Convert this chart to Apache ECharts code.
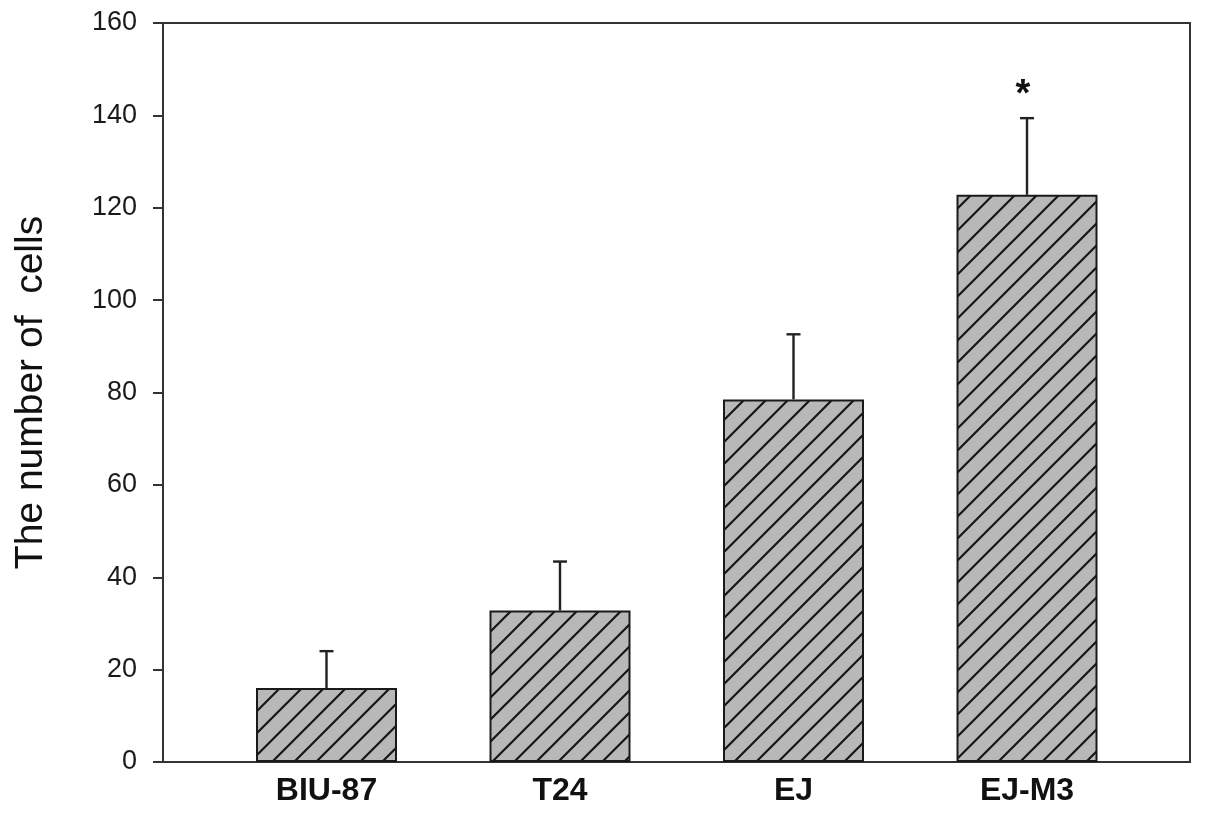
<!DOCTYPE html>
<html>
<head>
<meta charset="utf-8">
<script src="https://cdn.jsdelivr.net/npm/echarts@6/dist/echarts.min.js"></script>
<style>
  html, body { margin: 0; padding: 0; background: #fff; }
  #chart { width: 1205px; height: 817px; }
</style>
</head>
<body>
<div id="chart"></div>
<script>
// data
const cellLines = ['BIU-87', 'T24', 'EJ', 'EJ-M3']
const meanCells = [16.0, 32.8, 78.5, 122.8]
const upperErr = [24.0, 43.4, 92.6, 139.4]
const sigMarks = ['', '', '', '*']
const yTicks = [0, 20, 40, 60, 80, 100, 120, 140, 160]

// hatch pattern: gray fill with dark diagonal lines
function makeHatch() {
  const s = 22
  const c = document.createElement('canvas')
  c.width = s
  c.height = s
  const ctx = c.getContext('2d')
  ctx.fillStyle = '#b8b8b8'
  ctx.fillRect(0, 0, s, s)
  ctx.strokeStyle = '#151515'
  ctx.lineWidth = 2.2
  ctx.beginPath()
  ctx.moveTo(0, s); ctx.lineTo(s, 0)
  ctx.moveTo(-2, 2); ctx.lineTo(2, -2)
  ctx.moveTo(s - 2, s + 2); ctx.lineTo(s + 2, s - 2)
  ctx.stroke()
  return c
}

const chart = echarts.init(document.getElementById('chart'))
const font = 'Liberation Sans, Arial, sans-serif'

chart.setOption({
  backgroundColor: '#fff',
  animation: false,
  grid: [
    { left: 163, right: 15, top: 23, bottom: 55, show: true, borderColor: '#333', borderWidth: 2, backgroundColor: 'transparent' },
    { left: 209.75, right: 61.25, top: 23, bottom: 55 }
  ],
  xAxis: [
    {
      gridIndex: 0, type: 'category', data: [],
      axisLine: { show: true, lineStyle: { color: '#333', width: 2 } },
      axisTick: { show: false }, axisLabel: { show: false }, splitLine: { show: false }
    },
    {
      gridIndex: 1, type: 'category', data: cellLines,
      axisLine: { show: false }, axisTick: { show: false },
      axisLabel: { color: '#111', fontFamily: font, fontSize: 32, fontWeight: 'bold', margin: 13 }
    }
  ],
  yAxis: [
    {
      gridIndex: 0, type: 'value', min: yTicks[0], max: yTicks[yTicks.length - 1], interval: 20,
      name: 'The number of  cells', nameLocation: 'middle', nameGap: 112,
      nameTextStyle: { color: '#111', fontFamily: font, fontSize: 39 },
      axisLine: { show: true, lineStyle: { color: '#333', width: 2 } },
      axisTick: { show: true, inside: false, length: 10, lineStyle: { color: '#333', width: 2 } },
      axisLabel: { color: '#1a1a1a', fontFamily: font, fontSize: 27, margin: 26 },
      splitLine: { show: false }
    },
    {
      gridIndex: 1, type: 'value', min: yTicks[0], max: yTicks[yTicks.length - 1], interval: 20,
      show: false
    }
  ],
  series: [
    {
      type: 'bar', xAxisIndex: 1, yAxisIndex: 1,
      data: meanCells, barWidth: 141,
      itemStyle: {
        color: { image: makeHatch(), repeat: 'repeat' },
        borderColor: '#1a1a1a', borderWidth: 2
      }
    },
    {
      type: 'custom', xAxisIndex: 1, yAxisIndex: 1,
      data: cellLines.map((c, i) => [i, meanCells[i], upperErr[i], sigMarks[i]]),
      renderItem: function (params, api) {
        const lo = api.coord([api.value(0), api.value(1)])
        const hi = api.coord([api.value(0), api.value(2)])
        const cap = 7
        const style = { stroke: '#222', lineWidth: 2.4 }
        const children = [
          { type: 'line', shape: { x1: lo[0], y1: lo[1], x2: hi[0], y2: hi[1] }, style: style },
          { type: 'line', shape: { x1: hi[0] - cap, y1: hi[1], x2: hi[0] + cap, y2: hi[1] }, style: style }
        ]
        const mark = sigMarks[params.dataIndex]
        if (mark) {
          children.push({
            type: 'text',
            style: {
              text: mark, x: hi[0] - 4, y: hi[1] - 4,
              fill: '#111', font: 'bold 38px ' + font,
              textAlign: 'center', textVerticalAlign: 'bottom'
            }
          })
        }
        return { type: 'group', children: children }
      },
      z: 3
    }
  ]
})
</script>
</body>
</html>
